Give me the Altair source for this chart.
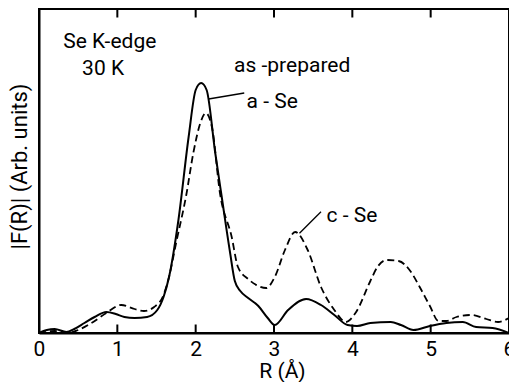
import altair as alt
import pandas as pd

# a-Se (solid) : R (Å), |F(R)| (arb. units, peak = 100)
R_a = [0.00, 0.10, 0.20, 0.35, 0.45, 0.58, 0.71, 0.86, 0.98, 1.09, 1.22, 1.38, 1.51, 1.59, 1.66,
       1.78, 1.91, 2.00, 2.07, 2.14, 2.25, 2.33, 2.44, 2.50, 2.57, 2.67, 2.80, 2.92, 3.01, 3.18,
       3.41, 3.60, 3.77, 3.94, 4.06, 4.23, 4.49, 4.62, 4.78, 4.99, 5.20, 5.41, 5.58, 5.79, 6.00]
F_a = [0.0, 1.2, 1.6, 0.4, 1.6, 4.0, 6.4, 8.4, 7.6, 6.4, 6.0, 6.4, 9.2, 14.4, 22.4,
       45.2, 78.4, 97.2, 100.0, 97.2, 72.0, 55.0, 32.0, 20.8, 16.8, 14.0, 10.8, 6.0, 3.2, 9.2,
       13.6, 11.2, 7.2, 3.2, 2.8, 4.0, 4.4, 3.2, 1.2, 2.8, 4.0, 4.4, 2.4, 2.0, 0.0]

# c-Se (dashed)
R_c = [0.00, 0.20, 0.37, 0.50, 0.67, 0.86, 1.05, 1.22, 1.34, 1.47, 1.59, 1.66, 1.75, 1.88,
       1.97, 2.06, 2.13, 2.21, 2.31, 2.46, 2.54, 2.67, 2.80, 2.90, 3.01, 3.14, 3.27, 3.43,
       3.60, 3.77, 3.92, 4.04, 4.23, 4.32, 4.44, 4.59, 4.74, 4.86, 4.99, 5.10, 5.20, 5.33,
       5.52, 5.71, 5.86, 6.00]
F_c = [0.0, 0.8, 0.0, 1.2, 4.0, 8.0, 11.2, 9.6, 8.8, 10.4, 15.2, 22.4, 36.0, 55.2,
       72.0, 84.0, 88.0, 82.0, 56.0, 38.4, 26.4, 21.6, 18.8, 18.0, 22.4, 33.2, 40.4, 33.2,
       18.4, 9.2, 4.4, 8.0, 20.8, 26.4, 29.2, 28.8, 24.8, 18.4, 10.8, 4.8, 4.8, 6.4,
       7.2, 5.6, 4.4, 6.0]

tick_labels = [0, 1, 2, 3, 4, 5, 6]
inner_ticks = [1, 2, 3, 4, 5]

ann_text = ["Se K-edge", "30 K", "as -prepared", "a - Se", "c - Se"]
ann_R = [0.31, 0.55, 2.49, 2.65, 3.67]
ann_F = [114.0, 103.2, 104.4, 90.0, 44.5]

lead_R = [2.165, 3.325]
lead_F = [93.6, 39.9]
lead_R2 = [2.62, 3.60]
lead_F2 = [96.0, 48.5]

YMAX = 129.6
FONT = "Roboto"
W, H = 470, 324

df_a = pd.DataFrame({"R": R_a, "F": F_a})
df_c = pd.DataFrame({"R": R_c, "F": F_c})
df_ann = pd.DataFrame({"t": ann_text, "R": ann_R, "F": ann_F})
df_lead = pd.DataFrame({"R": lead_R, "F": lead_F, "R2": lead_R2, "F2": lead_F2})
df_tb = pd.DataFrame({"R": inner_ticks, "y0": [0.0] * 5, "y1": [3.4] * 5})
df_tt = pd.DataFrame({"R": inner_ticks, "y0": [YMAX] * 5, "y1": [YMAX - 3.4] * 5})

xs = alt.Scale(domain=[0, 6], nice=False)
ys = alt.Scale(domain=[0, YMAX], nice=False, zero=False)

x_axis = alt.Axis(values=tick_labels, format="d", ticks=False, grid=False, domainWidth=2,
                  domainColor="black",
                  labelFont=FONT, labelFontSize=21, labelColor="black", labelPadding=22,
                  labelBaseline="alphabetic", labelFlush=False, labelOverlap=False,
                  title="R (Å)", titleFont=FONT, titleFontSize=21, titleFontWeight="normal",
                  titleColor="black", titleX=243, titleY=44, titleBaseline="alphabetic",
                  titleAlign="center")
y_axis = alt.Axis(labels=False, ticks=False, grid=False, domainWidth=2, domainColor="black",
                  title="|F(R)|  (Arb.  units)", titleFont=FONT, titleFontSize=22,
                  titleFontWeight="normal", titleColor="black", titleAngle=270,
                  titleX=-13, titleY=157, titleBaseline="alphabetic", titleAlign="center")

line_a = alt.Chart(df_a).mark_line(interpolate="monotone", color="black", strokeWidth=2).encode(
    x=alt.X("R:Q", scale=xs, axis=x_axis),
    y=alt.Y("F:Q", scale=ys, axis=y_axis),
)
line_c = alt.Chart(df_c).mark_line(interpolate="monotone", color="black", strokeWidth=1.8,
                                   strokeDash=[7, 4]).encode(
    x=alt.X("R:Q", scale=xs), y=alt.Y("F:Q", scale=ys))

tb = alt.Chart(df_tb).mark_rule(color="black", strokeWidth=2).encode(
    x=alt.X("R:Q", scale=xs), y=alt.Y("y0:Q", scale=ys), y2="y1:Q")
tt = alt.Chart(df_tt).mark_rule(color="black", strokeWidth=2).encode(
    x=alt.X("R:Q", scale=xs), y=alt.Y("y0:Q", scale=ys), y2="y1:Q")

ann = alt.Chart(df_ann).mark_text(align="left", baseline="alphabetic", font=FONT, fontSize=21,
                                  color="black").encode(
    x=alt.X("R:Q", scale=xs), y=alt.Y("F:Q", scale=ys), text="t:N")

lead = alt.Chart(df_lead).mark_rule(color="black", strokeWidth=1.3).encode(
    x=alt.X("R:Q", scale=xs), y=alt.Y("F:Q", scale=ys), x2="R2:Q", y2="F2:Q")

chart = alt.layer(line_c, line_a, tb, tt, lead, ann).properties(
    width=W, height=H,
    autosize=alt.AutoSizeParams(type="none"),
    padding={"left": 31, "top": 1, "right": 0, "bottom": 49},
    background="white",
).configure_view(stroke="black", strokeWidth=2)

chart.save("out.html", embed_options={"renderer": "svg", "actions": False})
